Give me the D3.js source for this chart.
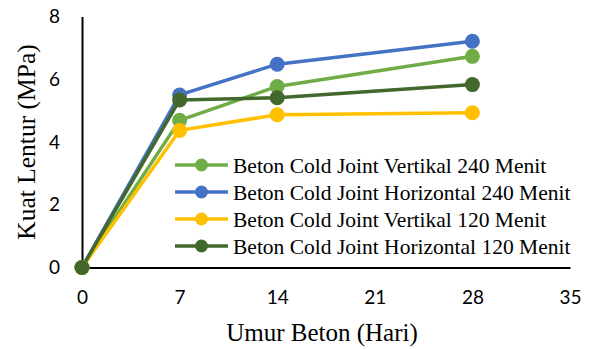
<!DOCTYPE html>
<html><head><meta charset="utf-8">
<script src="https://cdn.jsdelivr.net/npm/d3@7"></script>
<style>body{margin:0;background:#fff}svg{display:block}</style>
</head><body>
<script>
const days = [0, 7, 14, 28];
const seriesNames = [
  "Beton Cold Joint Vertikal 240 Menit",
  "Beton Cold Joint Horizontal 240 Menit",
  "Beton Cold Joint Vertikal 120 Menit",
  "Beton Cold Joint Horizontal 120 Menit"
];
const vert240 = [0, 4.69, 5.77, 6.73];
const horiz240 = [0, 5.50, 6.48, 7.21];
const vert120 = [0, 4.37, 4.87, 4.93];
const horiz120 = [0, 5.34, 5.41, 5.83];
const colors = ["#70AD47", "#4472C4", "#FFC000", "#43682B"];
const xTicks = [0, 7, 14, 21, 28, 35];
const yTicks = [0, 2, 4, 6, 8];
const xTitle = "Umur Beton (Hari)";
const yTitle = "Kuat Lentur (MPa)";

const W = 590, H = 349;
const svg = d3.select("body").append("svg").attr("width", W).attr("height", H);
const x = d3.scaleLinear().domain([0, 35]).range([82, 570]);
const y = d3.scaleLinear().domain([0, 8]).range([267.5, 16.5]);

const seriesVals = [vert240, horiz240, vert120, horiz120];
const series = seriesNames.map((n, i) => ({name: n, color: colors[i], values: seriesVals[i].map((v, j) => ({d: days[j], v}))}));

// axes
const xAxis = d3.axisBottom(x).tickValues(xTicks).tickSize(0).tickPadding(23);
const gx = svg.append("g").attr("transform", `translate(0,${y(0)})`).call(xAxis);
gx.select(".domain").attr("stroke", "#000").attr("stroke-width", 2);
gx.selectAll("text").attr("font-family", "Lato, 'Open Sans', sans-serif").attr("font-size", 19).attr("fill", "#000");

const yAxis = d3.axisLeft(y).tickValues(yTicks).tickSize(0).tickPadding(22);
const gy = svg.append("g").attr("transform", `translate(${x(0)},0)`).call(yAxis);
gy.select(".domain").attr("stroke", "#000").attr("stroke-width", 2);
gy.selectAll("text").attr("font-family", "Lato, 'Open Sans', sans-serif").attr("font-size", 19).attr("fill", "#000");

// titles
svg.append("text").attr("x", 322).attr("y", 341).attr("text-anchor", "middle")
  .attr("font-family", "'Liberation Serif', 'Times New Roman', serif").attr("font-size", 25).text(xTitle);
svg.append("text").attr("transform", "translate(35,142) rotate(-90)").attr("text-anchor", "middle")
  .attr("font-family", "'Liberation Serif', 'Times New Roman', serif").attr("font-size", 25.5).text(yTitle);

// lines
const line = d3.line().x(d => x(d.d)).y(d => y(d.v));
series.forEach(s => {
  svg.append("path").datum(s.values).attr("d", line).attr("fill", "none")
    .attr("stroke", s.color).attr("stroke-width", 3.5).attr("stroke-linejoin", "round");
});
series.forEach(s => {
  svg.append("g").selectAll("circle").data(s.values).join("circle")
    .attr("cx", d => x(d.d)).attr("cy", d => y(d.v)).attr("r", 7.5).attr("fill", s.color);
});

// legend
const lg = svg.append("g");
lg.append("rect").attr("x", 170).attr("y", 151).attr("width", 405).attr("height", 108).attr("fill", "#fff");
series.forEach((s, i) => {
  const cy = 165 + i * 27;
  lg.append("line").attr("x1", 175).attr("x2", 228).attr("y1", cy).attr("y2", cy).attr("stroke", s.color).attr("stroke-width", 3.5);
  lg.append("circle").attr("cx", 201.5).attr("cy", cy).attr("r", 6.5).attr("fill", s.color);
  lg.append("text").attr("x", 233).attr("y", cy).attr("dy", "0.35em")
    .attr("font-family", "'Liberation Serif', 'Times New Roman', serif").attr("font-size", 21.5).text(s.name);
});
</script>
</body></html>
